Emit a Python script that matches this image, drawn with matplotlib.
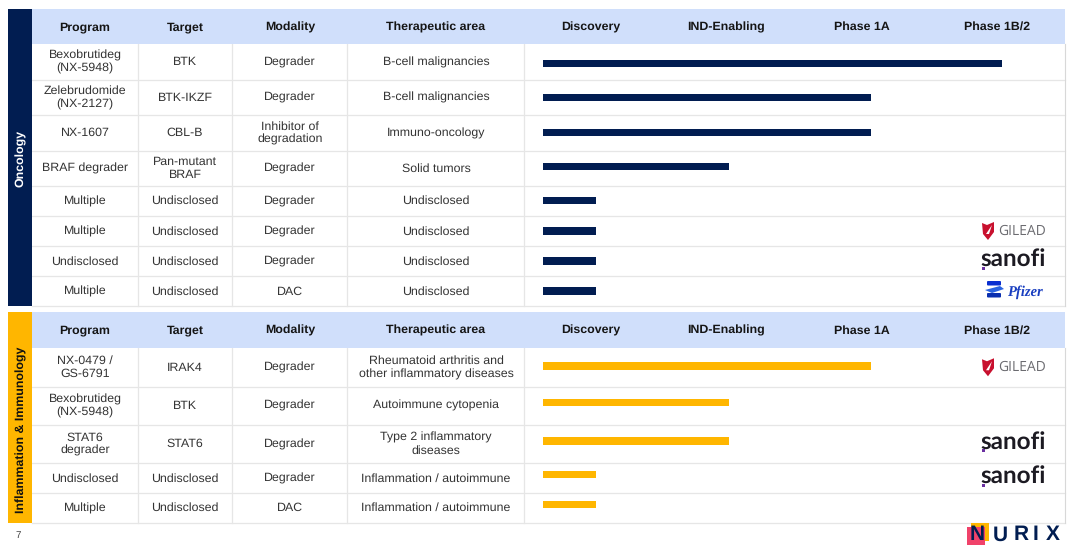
import matplotlib
matplotlib.use("Agg")
import matplotlib.pyplot as plt
from matplotlib.patches import Rectangle, Polygon, FancyBboxPatch

plt.rcParams['font.family'] = ['Liberation Sans', 'DejaVu Sans']
plt.rcParams['text.hinting'] = 'none'

W, H = 1080, 554
columns = ["Program", "Target", "Modality", "Therapeutic area"]
phases = ["Discovery", "IND-Enabling", "Phase 1A", "Phase 1B/2"]

onc_program = ["Bexobrutideg\n(NX-5948)", "Zelebrudomide\n(NX-2127)", "NX-1607", "BRAF degrader",
               "Multiple", "Multiple", "Undisclosed", "Multiple"]
onc_target = ["BTK", "BTK-IKZF", "CBL-B", "Pan-mutant\nBRAF", "Undisclosed", "Undisclosed", "Undisclosed", "Undisclosed"]
onc_modality = ["Degrader", "Degrader", "Inhibitor of\ndegradation", "Degrader", "Degrader", "Degrader", "Degrader", "DAC"]
onc_area = ["B-cell malignancies", "B-cell malignancies", "Immuno-oncology", "Solid tumors",
            "Undisclosed", "Undisclosed", "Undisclosed", "Undisclosed"]
onc_progress = [3.39, 2.42, 2.42, 1.37, 0.39, 0.39, 0.39, 0.39]
onc_partner = [None, None, None, None, None, "gilead", "sanofi", "pfizer"]

inf_program = ["NX-0479 /\nGS-6791", "Bexobrutideg\n(NX-5948)", "STAT6\ndegrader", "Undisclosed", "Multiple"]
inf_target = ["IRAK4", "BTK", "STAT6", "Undisclosed", "Undisclosed"]
inf_modality = ["Degrader", "Degrader", "Degrader", "Degrader", "DAC"]
inf_area = ["Rheumatoid arthritis and\nother inflammatory diseases", "Autoimmune cytopenia",
            "Type 2 inflammatory\ndiseases", "Inflammation / autoimmune", "Inflammation / autoimmune"]
inf_progress = [2.42, 1.37, 1.37, 0.39, 0.39]
inf_partner = ["gilead", None, "sanofi", "sanofi", None]

fig = plt.figure(figsize=(W / 100, H / 100), dpi=100, facecolor="white")
ax = fig.add_axes([0, 0, 1, 1])
ax.set_xlim(0, W); ax.set_ylim(H, 0); ax.axis("off")

BAR_X0, STAGE_W = 543, 135.5
bx = fig.add_axes([BAR_X0 / W, 0, (W - BAR_X0) / W, 1], facecolor="none")
bx.set_xlim(0, (W - BAR_X0) / STAGE_W); bx.set_ylim(H, 0); bx.axis("off")

col_edges = [32, 138, 232, 347, 524]
col_cent = [85, 185, 290, 436]
ph_cent = [591, 726, 862, 997]
R = 1065
GRID = "#e6e6e6"
HEAD = "#d0dffb"
TXT = "#333333"
FS = 8.9


def sanofi(y):
    ax.text(1046, y - 2, "sanofi", ha="right", va="center", fontsize=17.5, fontweight="bold",
            family="Lato", color="#1c1a22", zorder=3)
    ax.add_patch(Rectangle((981.5, y + 5.5), 3, 3, color="#6a2fa0", lw=0, zorder=4))


def gilead(y):
    ax.add_patch(Polygon([(982, y - 8), (987, y - 6), (994, y - 9), (994, y + 1), (988, y + 9), (983, y + 3)],
                         closed=True, color="#c8102e", lw=0))
    ax.add_patch(Polygon([(986, y + 3), (992, y - 6), (989, y + 3)], closed=True, color="white", lw=0))
    ax.text(1046, y, "GILEAD", ha="right", va="center", fontsize=10, color="#6b6b70", family="Open Sans")


def pfizer(y):
    ax.add_patch(FancyBboxPatch((988, y - 9), 12, 2.5, boxstyle="round,pad=1", color="#0a2fd0", lw=0))
    ax.add_patch(Polygon([(985, y - 1), (1000, y - 5), (1004, y - 2), (992, y + 2)], color="#2a63e0", lw=0))
    ax.add_patch(FancyBboxPatch((988, y + 3), 12, 2.5, boxstyle="round,pad=1", color="#0a2fb0", lw=0))
    ax.text(1043, y + 1, "Pfizer", ha="right", va="center", fontsize=10.5, fontweight="bold", style="italic",
            family="Liberation Serif", color="#1a3fc0")


LOGOS = {"gilead": gilead, "sanofi": sanofi, "pfizer": pfizer}


def table(top, hb, edges, label, color, lcolor, cols, progress, partner, bar_color, bar_y, label_y):
    ax.add_patch(Rectangle((8, top), 24, edges[-1] - top, color=color, lw=0, zorder=2))
    ax.text(21, label_y, label, rotation=90, ha="center", va="center",
            fontsize=FS, fontweight="bold", color=lcolor, zorder=3)
    ax.add_patch(Rectangle((32, top), R - 32, hb - top, color=HEAD, lw=0, zorder=2))
    hy = (top + hb) / 2 + 0.5
    for x, t in zip(col_cent, columns):
        ax.text(x, hy, t, ha="center", va="center", fontsize=FS, fontweight="bold", color="#151515", zorder=3)
    for x, t in zip(ph_cent, phases):
        ax.text(x, hy, t, ha="center", va="center", fontsize=FS, fontweight="bold", color="#151515", zorder=3)
    for y in edges[1:]:
        ax.plot([32, R], [y, y], color=GRID, lw=0.9, zorder=1)
    for x in col_edges[1:]:
        ax.plot([x, x], [hb, edges[-1]], color=GRID, lw=0.9, zorder=1)
    ax.plot([R, R], [hb, edges[-1]], color="#d8d8d8", lw=0.8, zorder=1)
    for i in range(len(edges) - 1):
        y = (edges[i] + edges[i + 1]) / 2
        for x, c in zip(col_cent, cols):
            ax.text(x, y + 0.3, c[i], ha="center", va="center", fontsize=FS, color=TXT, linespacing=1.2, zorder=3)
        if partner[i]:
            LOGOS[partner[i]](y)
    bx.barh(bar_y, progress, height=7.5, left=0, color=bar_color, lw=0)


table(9, 44, [44, 79.5, 115, 150.5, 185.5, 216, 246, 276, 306], "Oncology", "#011d51", "white",
      [onc_program, onc_target, onc_modality, onc_area], onc_progress, onc_partner, "#011d51",
      [63.3, 97.5, 132.7, 166.3, 200.3, 231, 261, 291], 158)
table(312, 348, [348, 386.5, 424.5, 463, 493, 522.5], "Inflammation & Immunology", "#ffb600", "#111111",
      [inf_program, inf_target, inf_modality, inf_area], inf_progress, inf_partner, "#ffb600",
      [366, 402.7, 441, 474.3, 504.3], 430)

ax.text(18, 535, "7", ha="center", va="center", fontsize=7, color="#444444")

# NURIX logo
nurix_letters = ["N", "U", "R", "I", "X"]
nurix_x = [977, 1000, 1021.5, 1036, 1052.5]
ax.add_patch(Rectangle((971, 523), 18, 18, color="#ffb600", lw=0, zorder=2))
ax.add_patch(Rectangle((967, 527), 18, 18, color="#f0426a", lw=0, zorder=3))
for ch, x in zip(nurix_letters, nurix_x):
    ax.text(x, 535, ch, ha="center", va="center", fontsize=15, fontweight="bold", color="#011d51", zorder=4)

fig.savefig("out.png", dpi=100)
